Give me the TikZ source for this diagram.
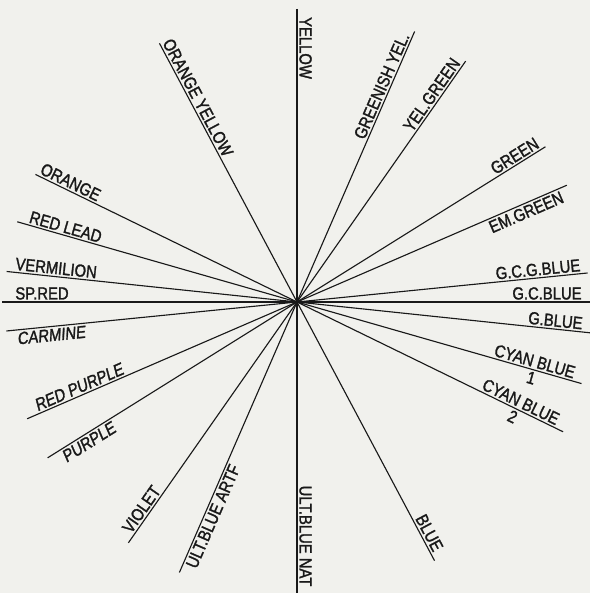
\documentclass[tikz,border=0pt]{standalone}
\usepackage{fontspec}
\setmainfont[FakeStretch=0.85,FakeBold=1.5]{Liberation Sans}
\newfontfamily\slfont[FakeStretch=0.85,FakeSlant=0.15,FakeBold=1.5]{Liberation Sans}
\usetikzlibrary{calc}
\definecolor{paper}{RGB}{241,241,237}
\definecolor{ink}{RGB}{25,25,25}
\tikzset{
  ray/.style={draw=ink,line width=0.8pt},
  lbl/.style={font=\fontsize{12.4}{14}\selectfont,text=ink,inner sep=1.5pt},
}
\begin{document}
\begin{tikzpicture}[x=0.025cm,y=0.025cm]
  \fill[paper] (0,0) rectangle (590,593);
  \useasboundingbox (0,0) rectangle (590,593);
  \coordinate (c) at (297,291);
  % ray ends and their labels
  \foreach \n/\a/\r/\d/\o/\s/\t in {
      yellow/90/293/254/-90/south/YELLOW,
      greenyel/66.5/295/232/66.5/south/GREENISH YEL.,
      yelgreen/55/294/247/55/south/YEL.GREEN,
      green/32/293/262/32/south/GREEN,
      emgreen/23.4/294/246/23.4/north/EM.GREEN,
      gcgblue/5.7/292/243/5.7/south/G.C.G.BLUE,
      gcblue/0/294/250/0/south/G.C.BLUE,
      gblue/-6/295/259/-6/south/G.BLUE,
      cyanone/-16/296/245/-16/south/CYAN BLUE,
      cyantwo/-26/296/245/-26/south/CYAN BLUE,
      blue/-62/293/266/-62/south/BLUE,
      ultnat/-90/295/234/-90/south/ULT.BLUE NAT,
      ultartf/246.5/295/230/66.5/north/ULT.BLUE ARTF,
      violet/235/294/259/55/south/VIOLET,
      purple/212/294/251/32/north/\slfont PURPLE,
      redpurple/203.4/294/234/23.4/south/\slfont RED PURPLE,
      carmine/185.7/292/248/5.7/north/\slfont CARMINE,
      spred/180/295/255/0/south/SP.RED,
      vermilion/174/292/243/-6/south/VERMILION,
      redlead/164/291/243/-16/south/RED LEAD,
      orange/154/291/256/-26/south/ORANGE,
      orangeyel/118/293/227/-62/south/ORANGE YELLOW}{
    \coordinate (\n) at ($(c)+(\a:\r)$);
    \node[lbl,rotate=\o,anchor=\s] (\n-l) at ($(c)+(\a:\d)$) {\t};
  }
  % complementary pairs
  \foreach \p/\q in {yellow/ultnat,greenyel/ultartf,yelgreen/violet,green/purple,
      emgreen/redpurple,gcgblue/carmine,gcblue/spred,gblue/vermilion,
      cyanone/redlead,cyantwo/orange,blue/orangeyel}
    \draw[ray] (\p) -- (\q);
  \node[lbl,rotate=-16,anchor=north] (cyanone-n) at ($(c)+(-16:246)$) {1};
  \node[lbl,rotate=-26,anchor=north] (cyantwo-n) at ($(c)+(-26:244)$) {2};
\end{tikzpicture}
\end{document}
